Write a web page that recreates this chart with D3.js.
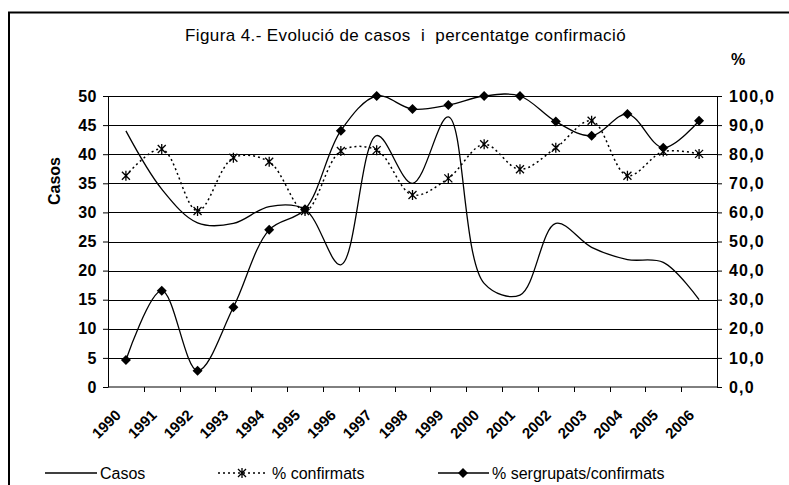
<!DOCTYPE html>
<html>
<head>
<meta charset="utf-8">
<script src="https://cdn.jsdelivr.net/npm/d3@7"></script>
<style>
	body { margin: 0; background: #fff; }
	svg { display: block; font-family: 'Liberation Sans', Arial, sans-serif; }
</style>
</head>
<body>
<svg id="chart" width="789" height="485"></svg>
<script>
// data
const years = ['1990', '1991', '1992', '1993', '1994', '1995', '1996', '1997', '1998',
	'1999', '2000', '2001', '2002', '2003', '2004', '2005', '2006'];
const casos = [44, 34, 28.2, 28.1, 31, 30.5, 21, 43.2, 35, 46.4, 17.8, 15.8, 28.1, 24, 21.9, 21.4, 15];
const confirmats = [72.6, 81.8, 60.5, 78.8, 77.4, 60.5, 81.1, 81.4, 66, 71.7, 83.4, 74.8, 82.2, 91.5, 72.6, 80.9, 80.1];
const sergrupats = [9.3, 33.1, 5.6, 27.4, 54, 61.1, 88.1, 100, 95.5, 96.9, 100, 100, 91.2, 86.3, 93.8, 82.2, 91.5];
const leftTicks = [0, 5, 10, 15, 20, 25, 30, 35, 40, 45, 50];
const rightTicks = [0, 10, 20, 30, 40, 50, 60, 70, 80, 90, 100];

const svg = d3.select('#chart');

// plot box
const marginLeft = 108;
const marginRight = 717;
const marginTop = 96;
const marginBottom = 387;

const x = d3.scaleBand().domain(years).range([marginLeft, marginRight]);
const yL = d3.scaleLinear().domain([0, 50]).range([marginBottom, marginTop]);
const yR = d3.scaleLinear().domain([0, 100]).range([marginBottom, marginTop]);
const cx = (d) => x(d) + x.bandwidth() / 2;

// frame (only top and left visible in the picture)
svg.append('path')
	.attr('d', 'M9,485 L9,12.5 L789,12.5')
	.attr('fill', 'none')
	.attr('stroke', '#000')
	.attr('stroke-width', 2);

// title
svg.append('text')
	.attr('x', 185)
	.attr('y', 41)
	.attr('font-size', 17)
	.attr('letter-spacing', 0.4)
	.attr('xml:space', 'preserve')
	.text('Figura 4.- Evolució de casos  i  percentatge confirmació');

svg.append('text')
	.attr('x', 738)
	.attr('y', 65)
	.attr('text-anchor', 'middle')
	.attr('font-size', 16)
	.attr('font-weight', 'bold')
	.text('%');

// gridlines
svg.append('g')
	.selectAll('line')
	.data(leftTicks.slice(1))
	.join('line')
	.attr('x1', marginLeft)
	.attr('x2', marginRight)
	.attr('y1', (d) => Math.round(yL(d)) + 0.5)
	.attr('y2', (d) => Math.round(yL(d)) + 0.5)
	.attr('stroke', '#000')
	.attr('stroke-width', 1);

// axes
const axisStyle = (g) => {
	g.select('.domain').attr('stroke', '#000');
	g.selectAll('.tick line').attr('stroke', '#000');
	g.selectAll('.tick text')
		.attr('font-family', "'Liberation Sans', Arial, sans-serif")
		.attr('font-size', 16)
		.attr('font-weight', 'bold')
		.attr('fill', '#000');
};

svg.append('g')
	.attr('transform', `translate(${marginLeft},0)`)
	.call(d3.axisLeft(yL).tickValues(leftTicks).tickSize(5).tickSizeOuter(0).tickPadding(6).tickFormat(d3.format('d')))
	.call(axisStyle)
	.call((g) => g.selectAll('.tick text').attr('letter-spacing', 0.5));

svg.append('g')
	.attr('transform', `translate(${marginRight},0)`)
	.call(d3.axisRight(yR).tickValues(rightTicks).tickSize(5).tickSizeOuter(0).tickPadding(7)
		.tickFormat((d) => d3.format('.1f')(d).replace('.', ',')))
	.call(axisStyle)
	.call((g) => g.selectAll('.tick text').attr('letter-spacing', 1.2));

// x axis: ticks between categories
const xAxis = svg.append('g').attr('transform', `translate(0,${marginBottom})`);
xAxis.append('line')
	.attr('x1', marginLeft).attr('x2', marginRight)
	.attr('stroke', '#000');
xAxis.selectAll('.xt')
	.data(years.slice(1))
	.join('line')
	.attr('x1', (d) => Math.round(x(d)) + 0.5)
	.attr('x2', (d) => Math.round(x(d)) + 0.5)
	.attr('y1', 0)
	.attr('y2', 5)
	.attr('stroke', '#000');
xAxis.selectAll('text')
	.data(years)
	.join('text')
	.attr('transform', (d) => `translate(${cx(d) - 4},29) rotate(-45)`)
	.attr('text-anchor', 'end')
	.attr('font-size', 15)
	.attr('font-weight', 'bold')
	.text((d) => d);

svg.append('text')
	.attr('transform', 'translate(60,181) rotate(-90)')
	.attr('text-anchor', 'middle')
	.attr('font-size', 16)
	.attr('font-weight', 'bold')
	.text('Casos');

// series, smoothed
const curve = d3.curveCatmullRom.alpha(0.5);
const lineL = d3.line().x((d, i) => cx(years[i])).y((d) => yL(d)).curve(curve);
const lineR = d3.line().x((d, i) => cx(years[i])).y((d) => yR(d)).curve(curve);

svg.append('path')
	.attr('d', lineL(casos))
	.attr('fill', 'none')
	.attr('stroke', '#000')
	.attr('stroke-width', 1.3);

svg.append('path')
	.attr('d', lineR(confirmats))
	.attr('fill', 'none')
	.attr('stroke', '#000')
	.attr('stroke-width', 1.5)
	.attr('stroke-dasharray', '2,3');

svg.append('path')
	.attr('d', lineR(sergrupats))
	.attr('fill', 'none')
	.attr('stroke', '#000')
	.attr('stroke-width', 1.3);

const star = 'M-4,-4L4,4M-4,4L4,-4M0,-5L0,5';
const diamond = 'M0,-5L5,0L0,5L-5,0Z';

svg.append('g')
	.selectAll('path')
	.data(confirmats)
	.join('path')
	.attr('transform', (d, i) => `translate(${cx(years[i])},${yR(d)})`)
	.attr('d', star)
	.attr('fill', 'none')
	.attr('stroke', '#000')
	.attr('stroke-width', 1.3);

svg.append('g')
	.selectAll('path')
	.data(sergrupats)
	.join('path')
	.attr('transform', (d, i) => `translate(${cx(years[i])},${yR(d)})`)
	.attr('d', diamond)
	.attr('fill', '#000');

// legend
const legendY = 473;
const legend = svg.append('g').attr('font-size', 16);
legend.append('line').attr('x1', 45).attr('x2', 97).attr('y1', legendY).attr('y2', legendY).attr('stroke', '#000').attr('stroke-width', 1.3);
legend.append('text').attr('x', 100).attr('y', legendY + 6).text('Casos');

legend.append('line').attr('x1', 218).attr('x2', 267).attr('y1', legendY).attr('y2', legendY)
	.attr('stroke', '#000').attr('stroke-width', 1.5).attr('stroke-dasharray', '2,3');
legend.append('path').attr('transform', `translate(242,${legendY})`).attr('d', star).attr('fill', 'none').attr('stroke', '#000').attr('stroke-width', 1.3);
legend.append('text').attr('x', 272).attr('y', legendY + 6).text('% confirmats');

legend.append('line').attr('x1', 438).attr('x2', 489).attr('y1', legendY).attr('y2', legendY).attr('stroke', '#000').attr('stroke-width', 1.3);
legend.append('path').attr('transform', `translate(463,${legendY})`).attr('d', diamond).attr('fill', '#000');
legend.append('text').attr('x', 492).attr('y', legendY + 6).text('% sergrupats/confirmats');
</script>
</body>
</html>
